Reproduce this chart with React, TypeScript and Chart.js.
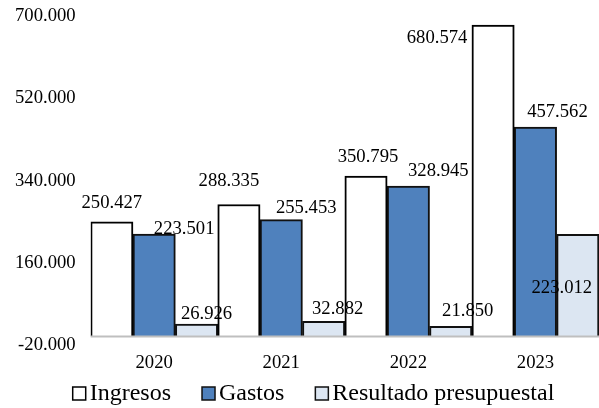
import React, { useEffect, useRef } from "react";
import { Chart, registerables } from "chart.js";

Chart.register(...registerables);

const categories = ["2020", "2021", "2022", "2023"];
const ingresos = [250427, 288335, 350795, 680574];
const gastos = [223501, 255453, 328945, 457562];
const resultado = [26926, 32882, 21850, 223012];
const seriesNames = ["Ingresos", "Gastos", "Resultado presupuestal"];
const yMin = -20000;
const yMax = 700000;
const yStep = 180000;

// label offsets (px) relative to the top-centre of each bar
const labelOffsets = [
  [[0, -19], [-10, -23], [2, -19], [-56, 13]],
  [[30, -5], [25, -11], [30, -15], [22, -15]],
  [[10, -10], [14, -12], [17, -15], [-16, 54]],
];

const FONT = "'Liberation Serif', 'Times New Roman', serif";
const fills = ["#FFFFFF", "#4F81BD", "#DCE6F2"];
const borders = ["#000000", "#111111", "#111111"];

function fmt(v: number): string {
  const s = String(Math.round(Math.abs(v))).replace(/\B(?=(\d{3})+(?!\d))/g, ".");
  return (v < 0 ? "-" : "") + s;
}

const overlayPlugin = {
  id: "overlay",
  afterDatasetsDraw(chart: any) {
    const { ctx, chartArea, scales } = chart;
    const y0 = scales.y.getPixelForValue(0);
    ctx.save();
    ctx.strokeStyle = "#BFBFBF";
    ctx.lineWidth = 2;
    ctx.beginPath();
    ctx.moveTo(chartArea.left, y0);
    ctx.lineTo(chartArea.right + 2, y0);
    ctx.stroke();

    ctx.fillStyle = "#000";
    ctx.font = `18.67px ${FONT}`;
    ctx.textAlign = "center";
    ctx.textBaseline = "middle";
    chart.data.datasets.forEach((ds: any, i: number) => {
      const meta = chart.getDatasetMeta(i);
      meta.data.forEach((el: any, j: number) => {
        const [dx, dy] = labelOffsets[i][j];
        ctx.fillText(fmt(ds.data[j]), el.x + dx, el.y + dy);
      });
    });
    ctx.restore();
  },
  afterDraw(chart: any) {
    const { ctx, width, height } = chart;
    ctx.save();
    ctx.font = `24px ${FONT}`;
    ctx.textBaseline = "alphabetic";
    const box = 13;
    const gapText = 4;
    const gapItem = 31;
    const widths = seriesNames.map((n) => box + gapText + ctx.measureText(n).width);
    const total = widths.reduce((a, b) => a + b, 0) + gapItem * (seriesNames.length - 1);
    let x = width / 2 + 14 - total / 2;
    const base = height - 8;
    seriesNames.forEach((n, i) => {
      ctx.fillStyle = fills[i];
      ctx.fillRect(x, base - 13, box, box);
      ctx.strokeStyle = borders[i];
      ctx.lineWidth = 1.5;
      ctx.strokeRect(x, base - 13, box, box);
      ctx.fillStyle = "#000";
      ctx.fillText(n, x + box + gapText, base);
      x += widths[i] + gapItem;
    });
    ctx.restore();
  },
};

export default function App() {
  const ref = useRef<HTMLCanvasElement>(null);
  useEffect(() => {
    if (!ref.current) return;
    const seriesData = [ingresos, gastos, resultado];
    const chart = new Chart(ref.current, {
      type: "bar",
      data: {
        labels: categories,
        datasets: seriesNames.map((name, i) => ({
          label: name,
          data: seriesData[i],
          backgroundColor: fills[i],
          borderColor: borders[i],
          borderWidth: 2,
          categoryPercentage: 1,
          barPercentage: 1,
        })),
      },
      options: {
        responsive: false,
        animation: false,
        layout: { padding: { left: 0, right: -3, top: 0, bottom: 28 } },
        plugins: { legend: { display: false }, tooltip: { enabled: false } },
        scales: {
          x: {
            grid: { display: false, drawTicks: false },
            border: { display: false },
            ticks: { color: "#000", font: { family: FONT, size: 18.67 }, padding: 6 },
          },
          y: {
            min: yMin,
            max: yMax,
            grid: { display: false, drawTicks: false },
            border: { display: false },
            ticks: {
              stepSize: yStep,
              color: "#000",
              font: { family: FONT, size: 18.67 },
              padding: 15,
              callback: (v: any) => fmt(Number(v)),
            },
          },
        },
      },
      plugins: [overlayPlugin],
    });
    return () => chart.destroy();
  }, []);
  return (
    <div
      style={{
        position: "fixed",
        left: 0,
        top: 0,
        width: 599,
        height: 408,
        overflow: "hidden",
        background: "#fff",
      }}
    >
      <canvas ref={ref} width={599} height={418} style={{ position: "absolute", left: 0, top: -10 }} />
    </div>
  );
}
